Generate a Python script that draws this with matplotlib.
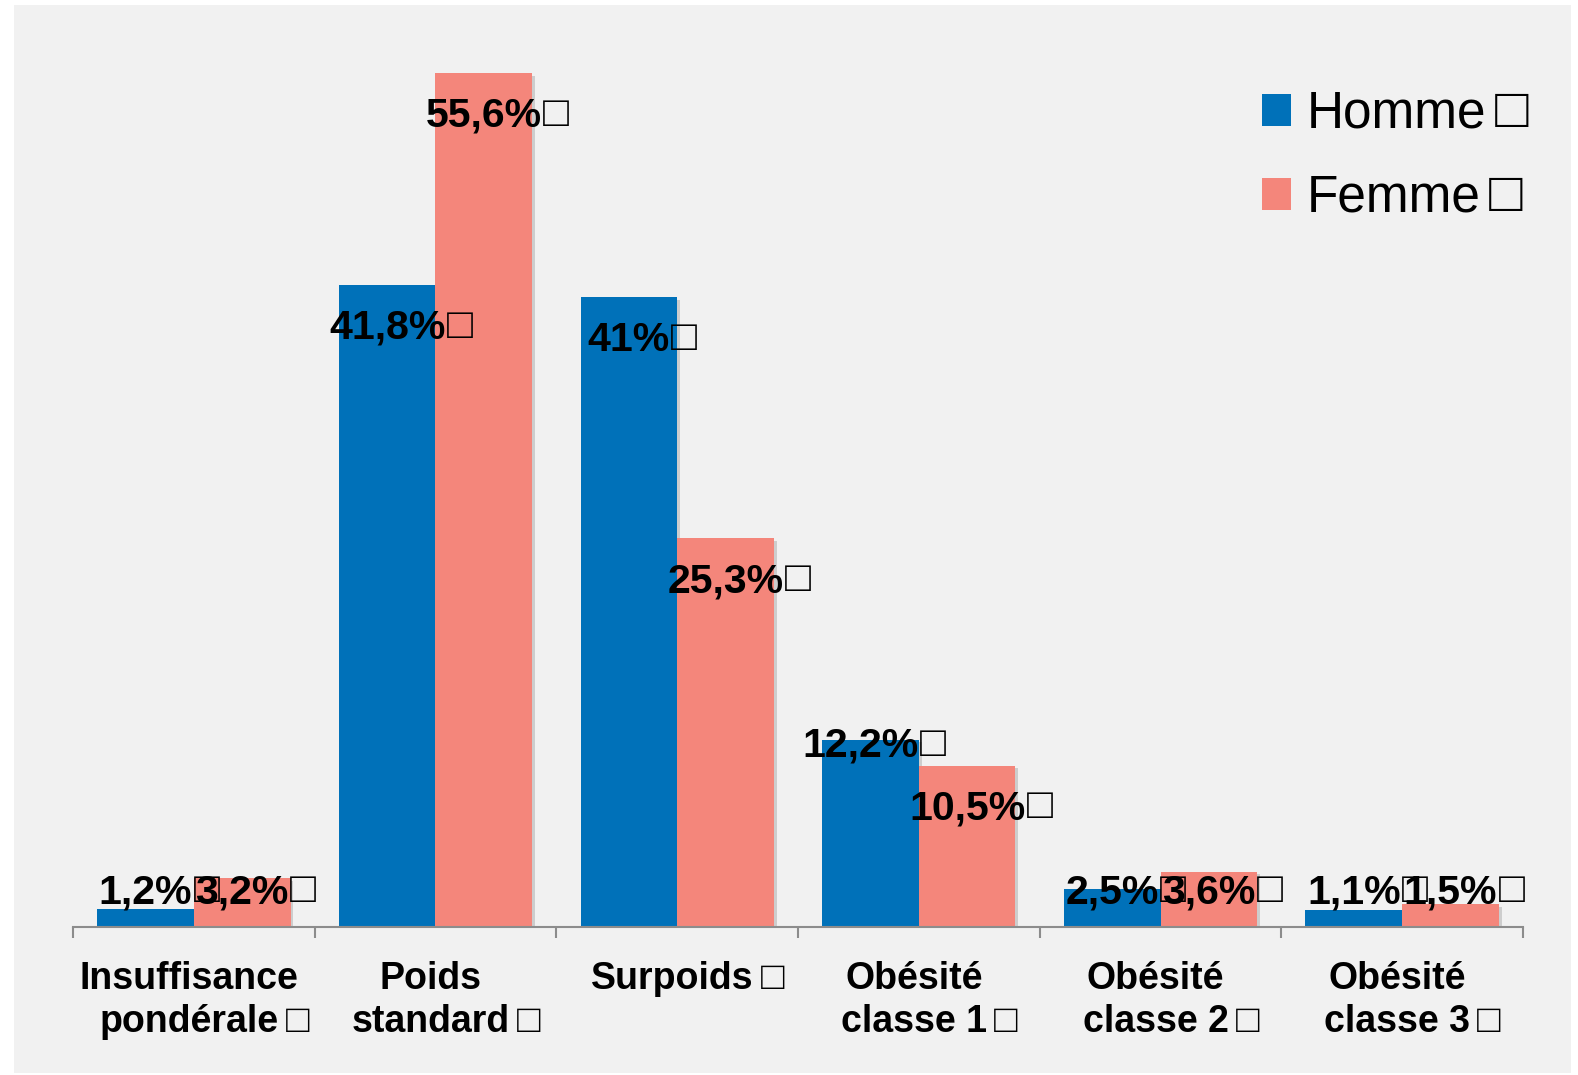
# plot.py
import matplotlib
matplotlib.use("Agg")
import matplotlib.pyplot as plt
import matplotlib.patheffects as pe
from matplotlib.patches import Patch, Rectangle
from matplotlib.text import Annotation
import numpy as np

plt.rcParams["font.family"] = ["Liberation Sans", "DejaVu Sans"]

categories = ["Insuffisance pondérale", "Poids standard", "Surpoids",
              "Obésité classe 1", "Obésité classe 2", "Obésité classe 3"]
homme = [1.2, 41.8, 41.0, 12.2, 2.5, 1.1]
femme = [3.2, 55.6, 25.3, 10.5, 3.6, 1.5]
homme_labels = ["1,2%", "41,8%", "41%", "12,2%", "2,5%", "1,1%"]
femme_labels = ["3,2%", "55,6%", "25,3%", "10,5%", "3,6%", "1,5%"]
series_names = ["Homme", "Femme"]
BOX = "\u25a1"

BLUE = "#0071B9"
SALMON = "#F4867B"
PANEL = "#F1F1F1"

W, H = 1578, 1075
fig = plt.figure(figsize=(W / 100, H / 100), dpi=100)
fig.add_artist(Rectangle((14 / W, 1 - 1073 / H), (1571 - 14) / W, (1073 - 5) / H,
                         transform=fig.transFigure, facecolor=PANEL,
                         edgecolor="none", zorder=-5))

# plot area: baseline at y=927px, 15.36 px per percent
ax = fig.add_axes([73 / W, (H - 927) / H, 1450 / W, 60 * 15.36 / H])
ax.patch.set_visible(False)
ax.set_xlim(-0.5, 5.5)
ax.set_ylim(0, 60)

x = np.arange(len(categories))
bw = 0.4
shadow = [pe.SimplePatchShadow(offset=(2, -2), shadow_rgbFace="k", alpha=0.15), pe.Normal()]
b1 = ax.bar(x - bw / 2, homme, bw, color=BLUE, zorder=2)
b2 = ax.bar(x + bw / 2, femme, bw, color=SALMON, zorder=2)
for b in list(b1) + list(b2):
    b.set_path_effects(shadow)

for s in ["top", "left", "right"]:
    ax.spines[s].set_visible(False)
ax.spines["bottom"].set_color("#8C8C8C")
ax.spines["bottom"].set_linewidth(1.5)
ax.set_yticks([])
ax.set_xticks(np.arange(-0.5, 6, 1.0))
ax.set_xticklabels([])
ax.tick_params(axis="x", direction="out", length=8, width=1.5, color="#8C8C8C")


def add_box(artist, size, gap, on_fig=False):
    # the source shows a missing-glyph box after every text
    kw = dict(xy=(1, 0), xycoords=artist, xytext=(gap, 0), textcoords="offset points",
              ha="left", va="bottom", fontsize=size, color="black")
    if on_fig:
        # drawn after the axes so the legend has been laid out
        fig.add_artist(Annotation(BOX, zorder=10, **kw))
    else:
        ax.annotate(BOX, zorder=5, **kw)


# data labels: inside end, pushed up to a floor for short bars
LABEL_DROP = 3.5
LABEL_FLOOR = 1.55
overrides = {(0, 3): (-0.04, 1.1)}  # manually moved label in the source


def add_label(xc, val, txt, key):
    dx, drop = overrides.get(key, (0.0, LABEL_DROP))
    y = max(val - drop, LABEL_FLOOR)
    t = ax.text(xc + dx, y, txt, ha="center", va="baseline", fontsize=29.5,
                fontweight="bold", color="black", zorder=5)
    add_box(t, 31, 1)


for i in range(len(categories)):
    add_label(x[i] - bw / 2, homme[i], homme_labels[i], (0, i))
    add_label(x[i] + bw / 2, femme[i], femme_labels[i], (1, i))

# category labels, one text per line, box glyph appended to last line
for i, cat in enumerate(categories):
    lines = cat.split(" ", 1)
    last = None
    for j, line in enumerate(lines):
        last = ax.annotate(line, xy=(x[i] - 0.02, 0), xycoords="data",
                           xytext=(0, -44.5 - j * 31), textcoords="offset points",
                           ha="center", va="baseline", fontsize=27, fontweight="bold")
    add_box(last, 28, 5)

handles = [Patch(facecolor=BLUE), Patch(facecolor=SALMON)]
leg = ax.legend(handles, series_names, loc="upper left",
                bbox_to_anchor=(1262 / W, 1 - 90 / H), bbox_transform=fig.transFigure,
                frameon=False, fontsize=37, handlelength=0.57, handleheight=0.57,
                handletextpad=0.3, labelspacing=0.68, borderpad=0, borderaxespad=0)
for t in leg.get_texts():
    add_box(t, 40, 6, on_fig=True)

fig.savefig("out.png", dpi=100, facecolor="white")
